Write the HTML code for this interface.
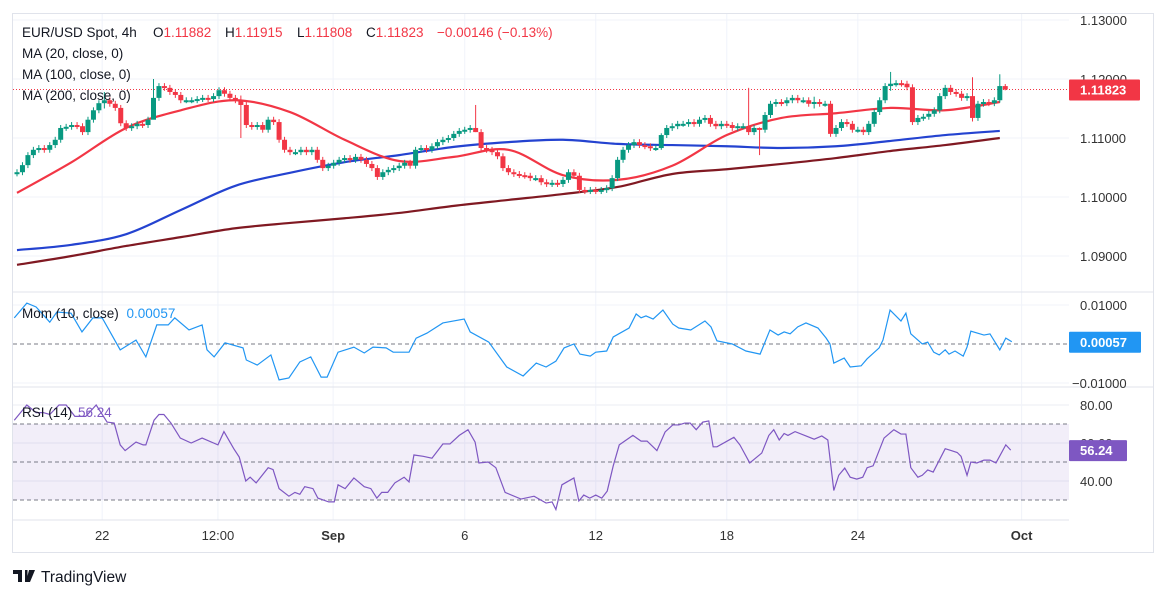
<!DOCTYPE html>
<html><head><meta charset="utf-8">
<style>
html,body{margin:0;padding:0;background:#fff;width:1164px;height:596px;overflow:hidden}
svg{display:block;font-family:"Liberation Sans",sans-serif}
</style></head>
<body>
<svg id="chart" width="1164" height="596" viewBox="0 0 1164 596" xmlns="http://www.w3.org/2000/svg">
<rect x="12.5" y="13.5" width="1141" height="539" fill="#fff" stroke="#e0e3eb"/>
<g id="grid"></g>
<g id="rsiband"></g>
<g id="ma"></g>
<g id="candles"></g>
<g id="ind"></g>
<g id="axes"></g>
<g font-size="13.5" fill="#131722">
<text x="22" y="37">EUR/USD Spot, 4h</text>
<text x="153" y="37">O<tspan fill="#f23645">1.11882</tspan></text>
<text x="225" y="37">H<tspan fill="#f23645">1.11915</tspan></text>
<text x="297" y="37">L<tspan fill="#f23645">1.11808</tspan></text>
<text x="366" y="37">C<tspan fill="#f23645">1.11823</tspan></text>
<text x="437" y="37" fill="#f23645">−0.00146 (−0.13%)</text>
<text x="22" y="58">MA (20, close, 0)</text>
<text x="22" y="79">MA (100, close, 0)</text>
<text x="22" y="100">MA (200, close, 0)</text>
<text x="22" y="318">Mom (10, close) <tspan dx="4" fill="#2196f3">0.00057</tspan></text>
<text x="22" y="417">RSI (14) <tspan dx="2" fill="#7e57c2">56.24</tspan></text>
</g>
<g>
<path d="M13 570h9v12h-4v-8h-5z M25 570h2.5v12H25z M29 570h6l-5 12h-4z" fill="#131722"/>
<text x="41" y="582" font-size="15.5" fill="#131722">TradingView</text>
</g>
</svg>
<script>
// ---- data ----
const closePips=[42,54,71,80,83,80,88,97,117,119,122,120,110,131,147,159,164,158,151,125,117,120,124,122,131,168,188,185,178,173,164,164,164,166,168,166,171,181,175,168,164,156,122,119,122,114,131,127,97,80,76,76,80,76,80,63,49,53,58,63,66,63,68,63,56,49,34,42,46,49,53,58,53,80,83,80,86,93,97,100,107,112,114,117,110,83,80,76,69,49,42,39,37,36,32,32,25,22,24,22,29,42,36,12,10,12,10,12,15,32,63,80,88,93,88,86,83,83,105,117,120,124,124,127,124,131,134,124,120,124,122,117,120,120,110,117,114,139,158,161,159,164,168,164,164,158,161,158,158,107,117,127,124,114,114,110,124,144,164,188,192,193,192,186,127,134,136,141,147,171,185,178,175,168,171,134,158,161,159,164,188,182.3];
const firstOpenPips=40;
const spikeBar=[16,25,41,84,118,134,136,146,160,175,180,181];
const spikeHi=[178,200,172,156,108,185,118,170,212,203,208,191.5];
const spikeLo=[150,160,100,110,80,105,71,150,180,128,160,180.8];
const maKeyBar=[0,10,20,30,40,50,60,70,80,90,100,110,120,130,140,150,160,170,180];
const ma20=[7,59,117,147,164,144,97,61,68,80,37,29,53,105,134,142,151,147,161];
const ma100=[-90,-81,-63,-22,19,41,59,71,85,93,97,90,88,86,83,86,95,105,112];
const ma200=[-115,-100,-83,-68,-53,-44,-36,-27,-15,-5,5,17,39,47,56,66,78,88,100];
const momBar=[-0.5,1.8,3.5,6,7.3,9.9,11.9,13.9,15.6,18.9,21.8,23.6,25.6,27.7,28.9,31.5,33.9,34.8,36.1,38.1,41.4,42,44,46.5,48,49.8,51.8,53.8,55.7,56.8,58.8,61.7,63.6,65.2,67.6,68.9,71.8,73.1,75.1,78,81.9,83,86.4,89.7,92.7,95.1,96.9,98.7,100.2,102,103.1,105,106,108,109.2,112.1,113.4,114.3,115.2,116.5,118.3,120.1,121.2,123.4,126,127.1,128.2,131,133.5,136.1,137.9,139.4,140.5,141.6,143,144.5,146.7,148.2,148.9,149.6,151.5,152.6,154.6,155.7,157.9,158.6,159.9,161.9,162.8,163.7,165.8,166.8,167.9,168.9,170,170.7,171.8,173.3,174,174.7,177.1,178.2,180,181.1,182.2];
const momVal=[6.7,10.5,9.5,5.6,8.2,7.9,3.1,6.7,6.7,-1.5,1.0,-3.3,4.9,4.9,6.7,3.6,4.9,-1.5,-3.3,0.3,-1.0,-4.1,-5.4,-2.8,-9.2,-8.7,-4.6,-3.3,-8.5,-8.5,-2.1,-0.8,-2.3,-0.8,-1.0,-2.1,-2.1,1.5,2.8,5.4,6.4,3.1,0.5,-5.9,-8.2,-4.9,-5.9,-4.4,-1.0,0,-2.6,-3.1,-2.1,-1.8,1.8,4.1,7.7,6.7,7.2,6.4,8.7,5.1,4.1,3.6,5.9,4.4,0.8,0,-1.8,-2.6,3.6,2.3,3.1,2.6,4.4,5.4,4.1,1.5,0,-4.9,-3.6,-5.9,-5.6,-3.8,-1.0,1.0,8.7,5.9,7.9,2.6,0,0.5,-2.1,-2.8,-1.5,-2.6,-1.8,-3.1,-0.8,3.3,2.3,2.6,-1.5,1.5,0.57];
const rsiBar=[-0.5,1.8,3.5,4.8,6,7.7,9,10.6,12.6,14.5,16.5,17.8,18.9,19.8,21.8,23.1,23.6,25.1,26,26.9,28.2,29.9,31.9,33.9,36.8,37.9,39.7,40.7,41.9,42.7,43.8,46,46.9,48,49.8,50.9,51.8,52.7,54.2,55.1,57.1,58.1,58.8,60.1,61.7,63.6,64.8,65.9,66.8,67.9,69.2,70.9,71.8,72.7,74.4,76,78,79.3,81,82.6,83.9,84.6,86.3,87.7,89.4,92.3,94.7,96.9,98,98.7,99.8,102,102.9,103.8,104.9,106,107.1,108.1,109.2,110.3,112.8,114.3,115.4,117.2,118.7,120.1,121.2,122.3,123.3,124.4,125.6,126.7,127.5,128.2,131.3,132.4,134.2,136.4,137.7,138.6,139.6,140.5,141.2,142.5,144.5,146,147.4,148.5,149.6,150.5,151.6,152.6,153.8,154.9,155.7,156.8,158.8,160.6,161.9,162.8,163.7,165,165.8,166.8,167.8,170,171.1,172.2,172.9,174,174.7,175.8,177.1,178.2,179.3,181.1,182];
const rsiVal=[72,80,76,76,75,80,80,74,74,80,71,70.5,59,56,60.5,59,59,72,75,75,70.5,62.6,60,62.6,59,66,57,52.6,40,42,39,47,46,36,32,34,33,37,36,31,29,29,38,36,41.6,37,36,31,34,34,39,42,39.5,53.7,53,52,59.5,59.5,64,67,60.5,49.5,50,47,34,30.5,32,28.4,29,25,38,41.6,29.5,32.6,31,32.6,31,34.7,48,59,64,61,61,56,65.8,69.5,69.5,70.5,70.5,67,71,71.6,58,58,63,59,49.5,54.7,64,67,61.6,65,64,66,63.7,62,63.7,61.6,35,43,46.8,42,41,42,47,48,62.6,67,64.7,64.7,47,42,43,45.8,44.7,57,56,55,53,43,50,49.5,51,51,49.5,59,56.24];
const priceTicks=[1.13,1.12,1.11,1.10,1.09];
const momTicks=[0.01,-0.01];
const rsiTicks=[80,60,40];
const timeLabels=["22","12:00","Sep","6","12","18","24","Oct"];
const timeBars=[15.6,36.8,57.9,82,106,130,154,184];
// ---- scales ----
const NS="http://www.w3.org/2000/svg";
const PLOT_R=1069;
const xB=b=>17+b*5.46;
const yP=p=>197-(p-1.10)*5900;
const yPip=v=>yP(1.10+v/10000);
const yM=v=>344-v*3900;
const yR=v=>481-(v-40)*1.9;
function el(tag,attrs,parent){const e=document.createElementNS(NS,tag);for(const k in attrs)e.setAttribute(k,attrs[k]);parent.appendChild(e);return e;}
const G=id=>document.getElementById(id);
// grid
const grid=G('grid');
priceTicks.forEach(t=>{const l=el('line',{x1:13,x2:PLOT_R,y1:yP(t),y2:yP(t),stroke:'#f0f3fa'},grid);

});
momTicks.forEach(t=>{const l=el('line',{x1:13,x2:PLOT_R,y1:yM(t),y2:yM(t),stroke:'#f0f3fa'},grid);

});
rsiTicks.forEach(t=>{const l=el('line',{x1:13,x2:PLOT_R,y1:yR(t),y2:yR(t),stroke:'#ebedf3'},grid);

});
timeBars.forEach(b=>{const l=el('line',{x1:xB(b),x2:xB(b),y1:14,y2:520,stroke:'#f0f3fa'},grid);

});
[[292,1153],[387,1153],[520,1069]].forEach(([y,x2])=>{const l=el('line',{x1:13,x2:x2,y1:y,y2:y,stroke:'#e0e3eb'},grid);

});
// rsi band
const band=G('rsiband');
{const r=el('rect',{x:13,y:yR(70),width:PLOT_R-13,height:yR(30)-yR(70),fill:'rgba(126,87,194,0.1)'},band);

}
[70,50,30].forEach(v=>{const l=el('line',{x1:13,x2:PLOT_R,y1:yR(v),y2:yR(v),stroke:'#787b86','stroke-dasharray':'4 3'},band);

});
{const l=el('line',{x1:13,x2:PLOT_R,y1:yM(0),y2:yM(0),stroke:'#787b86','stroke-dasharray':'4 3'},band);

}
// smooth path
function smooth(pts){let d='M'+pts[0][0]+','+pts[0][1];for(let i=0;i<pts.length-1;i++){const p0=pts[i-1]||pts[i],p1=pts[i],p2=pts[i+1],p3=pts[i+2]||p2;
const c1=[p1[0]+(p2[0]-p0[0])/6,p1[1]+(p2[1]-p0[1])/6],c2=[p2[0]-(p3[0]-p1[0])/6,p2[1]-(p3[1]-p1[1])/6];
d+=' C'+c1.join(',')+' '+c2.join(',')+' '+p2.join(',');}return d;}
const maG=G('ma');
[[ma200,'#801922','ma200-line'],[ma100,'#2443d0','ma100-line'],[ma20,'#f23645','ma20-line']].forEach(([arr,c,n])=>{
const p=el('path',{d:smooth(arr.map((v,i)=>[xB(maKeyBar[i]),yPip(v)])),fill:'none',stroke:c,'stroke-width':2.2},maG);

});
// last price line
{const l=el('line',{x1:13,x2:PLOT_R,y1:yPip(closePips[closePips.length-1]),y2:yPip(closePips[closePips.length-1]),stroke:'#f23645','stroke-dasharray':'1 2'},maG);

}
// candles
const cg=G('candles');
closePips.forEach((c,i)=>{const o=i===0?firstOpenPips:closePips[i-1];
let hi=Math.max(o,c)+5,lo=Math.min(o,c)-5;const si=spikeBar.indexOf(i);if(si>=0){hi=spikeHi[si];lo=spikeLo[si];}
const col=c>=o?'#089981':'#f23645';const x=xB(i);
const g=el('g',{},cg);


el('line',{x1:x,x2:x,y1:yPip(hi),y2:yPip(lo),stroke:col,'stroke-width':1},g);
const top=yPip(Math.max(o,c)),h=Math.max(2,yPip(Math.min(o,c))-top);
el('rect',{x:x-2.5,y:top,width:5,height:h,fill:col},g);});
// indicators
const ig=G('ind');
{const p=el('polyline',{points:momBar.map((b,i)=>xB(b)+','+yM(momVal[i]/1000)).join(' '),fill:'none',stroke:'#2196f3','stroke-width':1.2},ig);

}
{const p=el('polyline',{points:rsiBar.map((b,i)=>xB(b)+','+yR(rsiVal[i])).join(' '),fill:'none',stroke:'#7e57c2','stroke-width':1.2},ig);

}
// axes
const ax=G('axes');
function txt(x,y,s,attrs,name){const t=el('text',Object.assign({x:x,y:y},attrs),ax);t.textContent=s;

return t;}
priceTicks.forEach(t=>txt(1080,yP(t)+5,t.toFixed(5),{'font-size':13,fill:'#333'},'price-tick-label'));
momTicks.forEach(t=>txt(t<0?1072:1080,yM(t)+5,(t<0?'−':'')+Math.abs(t).toFixed(5),{'font-size':13,fill:'#333'},'mom-tick-label'));
rsiTicks.forEach(t=>txt(1080,yR(t)+5,t.toFixed(2),{'font-size':13,fill:'#333'},'rsi-tick-label'));
timeLabels.forEach((s,i)=>txt(xB(timeBars[i]),540,s,{'font-size':13,fill:'#333','text-anchor':'middle','font-weight':(s==='Sep'||s==='Oct')?'bold':'normal'},'time-tick-label'));
function tag(y,w,col,s,name){const g=el('g',{},ax);


el('rect',{x:PLOT_R,y:y-10,width:w,height:21,fill:col,rx:1},g);
const t=el('text',{x:PLOT_R+11,y:y+5,'font-size':13,fill:'#fff','font-weight':'bold'},g);t.textContent=s;}
tag(yPip(closePips[closePips.length-1]),71,'#f23645','1.11823','last-price-tag');
tag(yM(momVal[momVal.length-1]/1000),72,'#2196f3','0.00057','mom-value-tag');
tag(yR(rsiVal[rsiVal.length-1]),58,'#7e57c2','56.24','rsi-value-tag');
</script>
</body></html>
